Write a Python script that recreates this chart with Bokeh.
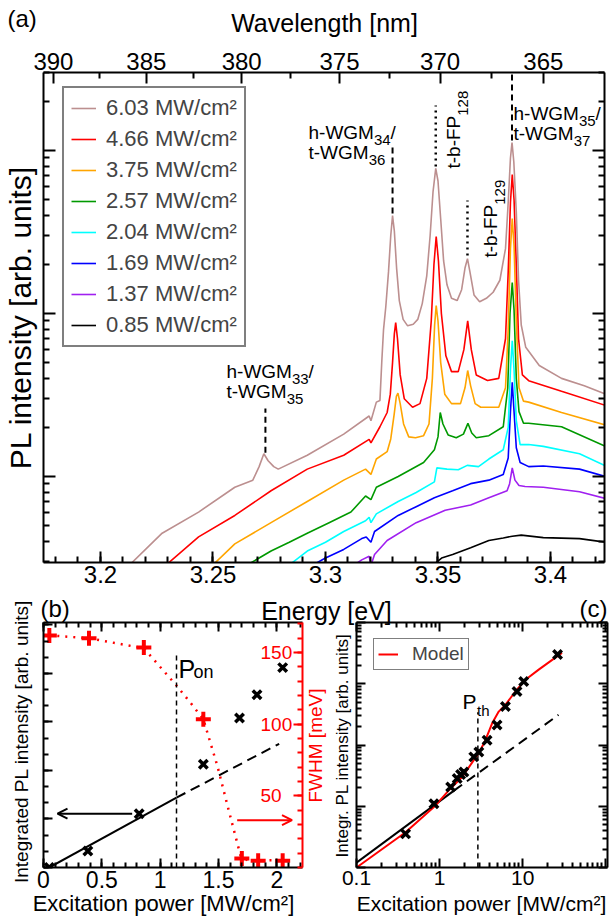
import math
from bokeh.plotting import figure
from bokeh.models import (Range1d, LinearAxis, LogAxis, FixedTicker, Label, Legend,
                          LegendItem, Arrow, OpenHead)
from bokeh.core.properties import value
from bokeh.layouts import column, row
from bokeh.embed import file_html
from bokeh.resources import INLINE

FONT = "Liberation Sans"
HC = 1239.84  # eV nm

# ---------------- panel (a): PL spectra ----------------
series_labels = ["6.03 MW/cm²", "4.66 MW/cm²", "3.75 MW/cm²", "2.57 MW/cm²",
                 "2.04 MW/cm²", "1.69 MW/cm²", "1.37 MW/cm²", "0.85 MW/cm²"]
series_colors = ["#bc8f8f", "#ff0000", "#ffa500", "#009900",
                 "#00ffff", "#0000ff", "#a020f0", "#000000"]

e_603 = [3.2110, 3.2274, 3.2436, 3.2597, 3.2677, 3.2705, 3.2726, 3.2745, 3.2770, 3.2790,
         3.2919, 3.3081, 3.3194, 3.3202, 3.3226, 3.3242, 3.3250, 3.3258, 3.3268, 3.3280,
         3.3290, 3.3298, 3.3306, 3.3316, 3.3328, 3.3345, 3.3365, 3.3390, 3.3410, 3.3430,
         3.3450, 3.3465, 3.3478, 3.3490, 3.3500, 3.3512, 3.3525, 3.3540, 3.3560, 3.3585,
         3.3605, 3.3620, 3.3631, 3.3642, 3.3660, 3.3685, 3.3715, 3.3745, 3.3775, 3.3800,
         3.3812, 3.3822, 3.3829, 3.3837, 3.3848, 3.3858, 3.3870, 3.3890, 3.3950, 3.4049,
         3.4150, 3.4245]
i_603 = [2.7, 4.49, 6.05, 8.59, 9.5, 11.5, 13.8, 12.5, 11.5, 11.1,
         13.5, 18.2, 23.5, 22.0, 28.6, 29.3, 50, 80, 110, 180,
         300, 399, 320, 190, 120, 92, 84, 86, 92, 115,
         170, 300, 560, 776, 650, 380, 210, 150, 124, 120,
         140, 190, 217, 180, 130, 118, 124, 135, 160, 250,
         480, 900, 1119, 850, 420, 160, 85, 62, 48, 40,
         36, 32]

e_466 = [3.2270, 3.2436, 3.2597, 3.2758, 3.2919, 3.3081, 3.3194, 3.3202, 3.3242, 3.3274,
         3.3288, 3.3298, 3.3306, 3.3312, 3.3320, 3.3332, 3.3350, 3.3387, 3.3420, 3.3450,
         3.3470, 3.3482, 3.3492, 3.3502, 3.3515, 3.3535, 3.3560, 3.3590, 3.3615, 3.3632,
         3.3648, 3.3670, 3.3720, 3.3770, 3.3800, 3.3812, 3.3822, 3.3830, 3.3838, 3.3848,
         3.3858, 3.3875, 3.3903, 3.4049, 3.4245]
i_466 = [2.7, 4.26, 5.77, 8.18, 11.1, 13.5, 16.9, 16.1, 20.2, 24.7,
         32, 50, 75, 88, 70, 42, 30, 26.6, 28, 40,
         90, 200, 297, 210, 100, 55, 44, 44, 60, 90,
         60, 42, 38.8, 40, 70, 180, 480, 713, 500, 200,
         70, 42, 38.7, 33.3, 27.3]

e_375 = [3.2480, 3.2597, 3.2758, 3.2919, 3.3081, 3.3178, 3.3202, 3.3226, 3.3274, 3.3290,
         3.3305, 3.3315, 3.3322, 3.3332, 3.3347, 3.3370, 3.3400, 3.3436, 3.3460, 3.3475,
         3.3485, 3.3492, 3.3500, 3.3512, 3.3530, 3.3560, 3.3600, 3.3620, 3.3632, 3.3645,
         3.3665, 3.3690, 3.3770, 3.3800, 3.3812, 3.3822, 3.3830, 3.3838, 3.3848, 3.3860,
         3.3880, 3.3903, 3.4049, 3.4245]
i_375 = [2.7, 3.86, 5.21, 7.03, 9.5, 11.1, 10.3, 12.8, 14.2, 17,
         24, 31, 32.5, 28, 21, 17.5, 17.3, 17.8, 21, 40,
         85, 112, 90, 50, 32, 28, 28, 35, 44.7, 36,
         28, 26.6, 26.6, 35, 80, 250, 383, 260, 90, 35,
         29, 28.6, 24.7, 20.7]

e_257 = [3.2620, 3.2758, 3.2839, 3.2919, 3.3016, 3.3113, 3.3178, 3.3202, 3.3226, 3.3323,
         3.3436, 3.3484, 3.3500, 3.3510, 3.3522, 3.3545, 3.3581, 3.3613, 3.3633, 3.3650,
         3.3670, 3.3726, 3.3790, 3.3810, 3.3820, 3.3830, 3.3838, 3.3848, 3.3860, 3.3880,
         3.3903, 3.4049, 3.4245]
i_257 = [2.7, 3.49, 3.95, 4.49, 5.21, 6.05, 7.59, 7.21, 8.59, 10.0,
         12.2, 14.6, 17.5, 24.7, 21, 18, 17.3, 18.2, 21.2, 18.5,
         17.3, 17.8, 20.2, 35, 100, 155, 105, 40, 25, 21.2,
         21.2, 20.2, 15.3]

e_204 = [3.2815, 3.2919, 3.3000, 3.3081, 3.3178, 3.3194, 3.3202, 3.3226, 3.3323, 3.3403,
         3.3484, 3.3495, 3.3540, 3.3590, 3.3630, 3.3680, 3.3726, 3.3790, 3.3812, 3.3822,
         3.3830, 3.3838, 3.3848, 3.3865, 3.3903, 3.3968, 3.4129, 3.4245]
i_204 = [2.7, 3.49, 3.95, 4.6, 5.35, 5.62, 5.21, 5.9, 7.03, 7.98,
         9.27, 11.3, 11.1, 11.0, 11.7, 11.5, 12.8, 14.6, 20, 45,
         68, 45, 22, 15.7, 15.7, 15.3, 13.8, 11.6]

e_169 = [3.2910, 3.3000, 3.3081, 3.3161, 3.3181, 3.3202, 3.3218, 3.3323, 3.3403, 3.3484,
         3.3565, 3.3645, 3.3726, 3.3790, 3.3812, 3.3822, 3.3830, 3.3838, 3.3848, 3.3865,
         3.3903, 3.3968, 3.4129, 3.4245]
i_169 = [2.7, 3.16, 3.57, 4.16, 4.26, 3.95, 4.6, 5.77, 6.53, 7.40,
         8.18, 9.04, 9.5, 10.3, 13, 25, 37.8, 25, 15, 12.2,
         11.5, 11.6, 11.1, 10.0]

e_137 = [3.3100, 3.3161, 3.3194, 3.3202, 3.3218, 3.3274, 3.3403, 3.3532, 3.3645, 3.3726,
         3.3807, 3.3818, 3.3830, 3.3842, 3.3860, 3.3887, 3.3968, 3.4129, 3.4245]
i_137 = [2.7, 3.08, 3.24, 2.85, 3.32, 4.05, 5.21, 6.21, 6.69, 7.40,
         8.18, 9.0, 11.3, 9.5, 8.8, 8.69, 8.59, 8.06, 7.33]

e_085 = [3.3470, 3.3516, 3.3565, 3.3645, 3.3726, 3.3790, 3.3830, 3.3870, 3.3968, 3.4129, 3.4245]
i_085 = [2.8, 3.16, 3.32, 3.66, 4.05, 4.2, 4.3, 4.37, 4.22, 4.16, 3.95]

spectra_e = [e_603, e_466, e_375, e_257, e_204, e_169, e_137, e_085]
spectra_i = [i_603, i_466, i_375, i_257, i_204, i_169, i_137, i_085]

energy_ticks = [3.2, 3.25, 3.3, 3.35, 3.4]
energy_tick_labels = ["3.2", "3.25", "3.3", "3.35", "3.4"]
wavelength_ticks = [390, 385, 380, 375, 370, 365]
wavelength_minor = [387.5, 382.5, 377.5, 372.5, 367.5]

# mode markers: energy, line top / bottom intensity
mode_energy = [3.2733, 3.3298, 3.3490, 3.3631, 3.3829]
mode_top = [26.1, 1104, 1888, 494, 3010]
mode_bottom = [14.0, 410, 798, 227, 1152]
mode_style = ["dashed", "dashed", "dotted", "dotted", "dashed"]

# ---------------- panel (b) ----------------
power_int_b = [0.05, 0.38, 0.82, 1.37, 1.68, 1.83, 2.05]
integ_b = [0.0, 0.34, 1.11, 2.13, 3.08, 3.56, 4.12]
power_fwhm_b = [0.05, 0.39, 0.86, 1.37, 1.70, 1.84, 2.05]
fwhm_b = [162, 160, 153.5, 103.5, 6.3, 4.7, 4.7]
fwhm_fit_power = [0.05, 0.39, 0.86, 1.14, 1.26, 1.37, 1.49, 1.60, 1.69, 1.75, 2.06]
fwhm_fit = [162, 160, 153, 127, 115, 103.5, 71, 36, 8, 5, 5]
lin_power_b = [0.05, 1.14, 2.02]
lin_int_b = [0.0, 1.44, 2.55]
p_on = 1.14
p_on_top = 4.44

# ---------------- panel (c) ----------------
power_c = [0.39, 0.855, 1.36, 1.63, 1.79, 1.96, 2.58, 2.97, 3.73, 4.92, 6.2, 8.55, 10.3, 26.3]
integ_c = [3.54, 11, 20.6, 28.3, 32.9, 36.3, 64, 77, 120, 212, 424, 748, 1092, 2993]
model_power = [0.1, 0.39, 0.895, 1.29, 1.87, 2.58, 3.1, 3.56, 4.29, 5.15, 6.2, 8.17, 10.8, 15.6, 29.7]
model_int = [1.0, 3.76, 10.3, 18.2, 30, 56.5, 82, 120, 226, 351, 452, 748, 1164, 1698, 3192]
lin_power_c = [0.1, 1.49, 27]
lin_int_c = [1.2, 18, 310]
p_th = 2.89
p_th_top = 343

# ---------------- helpers ----------------
AW = {'h': 556, '-': 333, 'W': 944, 'G': 778, 'M': 833, 't': 278, 'b': 556, 'F': 611,
      'P': 667, '/': 278, 'o': 556, 'n': 556}
BL = 4  # compensation for the rendered alphabetic baseline


def tw(s, size):
    return sum(AW.get(c, 556) for c in s) * size / 1000.0


def style_axis(ax, lw=2, major=10, minor=5, color="black", size="24px", standoff=3):
    ax.axis_line_width = lw
    ax.axis_line_color = color
    ax.major_tick_line_color = color
    ax.minor_tick_line_color = color
    ax.major_tick_line_width = lw
    ax.minor_tick_line_width = lw
    ax.major_tick_in = major
    ax.major_tick_out = 0
    ax.minor_tick_in = minor
    ax.minor_tick_out = 0
    ax.major_label_text_font = FONT
    ax.major_label_text_font_size = size
    ax.major_label_text_color = color
    ax.major_label_standoff = standoff


def blank(ax, ticks):
    ax.major_label_overrides = {t: "" for t in ticks}


def lab(p, text, x, y, size, align="left", baseline="alphabetic", angle=0.0, color="black",
        units="screen"):
    p.add_layout(Label(x=x, y=y, x_units=units, y_units=units, text=text,
                       text_font=FONT, text_font_size=f"{size}px", text_align=align,
                       text_baseline=baseline, angle=angle, text_color=color))


def no_align(p):
    if "frame_align" in p.properties():
        p.frame_align = False


def base_fig(w, h, xr, yr, xt="linear", yt="linear", mb=(0, 0, 0, 0)):
    p = figure(width=w, height=h, x_range=xr, y_range=yr, x_axis_type=xt, y_axis_type=yt,
               output_backend="svg", toolbar_location=None,
               min_border_top=mb[0], min_border_right=mb[1], min_border_bottom=mb[2],
               min_border_left=mb[3])
    p.grid.visible = False
    p.outline_line_color = None
    p.title_location = None
    no_align(p)
    return p


# ================= panel (a) =================
FA_L, FA_B = 43, 562  # frame left / bottom in canvas px
pa = base_fig(615, 617, Range1d(3.17467, 3.424), Range1d(2.968, 3010), yt="log",
              mb=(72, 11, 55, 43))

bx = pa.xaxis[0]
bx.ticker = FixedTicker(ticks=energy_ticks,
                        minor_ticks=[round(3.17 + 0.01 * k, 2) for k in range(26)])
bx.major_label_overrides = dict(zip(energy_ticks, energy_tick_labels))
style_axis(bx, major=11, minor=6, size="24px", standoff=3)

wl_e = [HC / w for w in wavelength_ticks]
tx = LinearAxis(ticker=FixedTicker(ticks=wl_e, minor_ticks=[HC / w for w in wavelength_minor]))
tx.major_label_overrides = {e: str(w) for e, w in zip(wl_e, wavelength_ticks)}
style_axis(tx, major=11, minor=6, size="24px", standoff=3)
pa.add_layout(tx, "above")

log_major = [10, 100, 1000]
log_minor = [m * d for d in (1, 10, 100, 1000) for m in range(2, 10)]
ly = pa.yaxis[0]
ly.ticker = FixedTicker(ticks=log_major, minor_ticks=log_minor)
blank(ly, log_major)
style_axis(ly, major=12, minor=6)
ry = LogAxis(ticker=FixedTicker(ticks=log_major, minor_ticks=log_minor))
blank(ry, log_major)
style_axis(ry, major=12, minor=6)
pa.add_layout(ry, "right")

rends = []
for k in range(len(spectra_e) - 1, -1, -1):
    r = pa.line(spectra_e[k], spectra_i[k], line_color=series_colors[k], line_width=1.6)
    rends.append((k, r))
rends.sort()

leg = Legend(items=[LegendItem(label=value(series_labels[k]), renderers=[r]) for k, r in rends],
             location=(19, 215), label_text_font=FONT, label_text_font_size="22px",
             glyph_width=25, glyph_height=26, label_height=26, spacing=5, padding=7,
             label_standoff=10, border_line_color="black", border_line_width=2,
             background_fill_alpha=1.0, margin=0)
pa.add_layout(leg)

for e, t, b, s in zip(mode_energy, mode_top, mode_bottom, mode_style):
    if s == "dashed":
        pa.line([e, e], [b, t], line_color="black", line_width=2, line_dash="6 4")
    else:
        pa.line([e, e], [b, t], line_color="black", line_width=2.5, line_dash="2 4")


def hlabel(X, Yb, main, sub, tail="", size=19, ssize=15, drop=7):
    sx, sy = X - FA_L, FA_B - (Yb - BL)
    lab(pa, main, sx, sy, size)
    w = tw(main, size)
    lab(pa, sub, sx + w, sy - drop, ssize)
    if tail:
        lab(pa, tail, sx + w + tw(sub, ssize), sy, size)


def vlabel(Xb, Ys, main, sub, size=19, ssize=15, drop=9):
    sx, sy = Xb - BL - FA_L, FA_B - Ys
    lab(pa, main, sx, sy, size, angle=math.pi / 2)
    lab(pa, sub, sx + drop, sy + tw(main, size), ssize, angle=math.pi / 2)


hlabel(226, 375, "h-WGM", "33", "/")
hlabel(226, 395, "t-WGM", "35")
hlabel(308, 136, "h-WGM", "34", "/")
hlabel(308, 156, "t-WGM", "36")
hlabel(513, 117, "h-WGM", "35", "/")
hlabel(513, 137, "t-WGM", "37")
vlabel(457, 168, "t-b-FP", "128")
vlabel(494, 257, "t-b-FP", "129")

# ================= panel (b) =================
FB_L, FB_B = 43, 867
pb = base_fig(330, 329, Range1d(0, 2.22), Range1d(0, 5.05), mb=(30, 28, 54, 43))
pb.border_fill_color = None
pb.extra_y_ranges = {"fwhm": Range1d(0, 171)}

b_ticks = [0, 0.5, 1, 1.5, 2]
b_minor = [round(0.1 * k, 1) for k in range(23)]
bxb = pb.xaxis[0]
bxb.ticker = FixedTicker(ticks=b_ticks, minor_ticks=b_minor)
bxb.major_label_overrides = {0: "0", 0.5: "0.5", 1: "1", 1.5: "1.5", 2: "2"}
style_axis(bxb, major=9, minor=5, size="23px", standoff=3)
txb = LinearAxis(ticker=FixedTicker(ticks=b_ticks, minor_ticks=b_minor))
blank(txb, b_ticks)
style_axis(txb, major=9, minor=5)
pb.add_layout(txb, "above")

lyb = pb.yaxis[0]
l_ticks = [0, 1, 2, 3, 4, 5]
lyb.ticker = FixedTicker(ticks=l_ticks, minor_ticks=[k / 3 for k in range(16)])
blank(lyb, l_ticks)
style_axis(lyb, major=9, minor=5)

r_ticks = [50, 100, 150]
ryb = LinearAxis(y_range_name="fwhm",
                 ticker=FixedTicker(ticks=r_ticks, minor_ticks=[10 * k for k in range(18)]))
style_axis(ryb, major=9, minor=5, color="red", size="19px", standoff=-42)
pb.add_layout(ryb, "right")

pb.line(fwhm_fit_power, fwhm_fit, y_range_name="fwhm", line_color="red", line_width=2.5,
        line_dash="2 6")
pb.scatter(power_fwhm_b, fwhm_b, y_range_name="fwhm", marker="cross", size=15,
           line_color="red", line_width=4)
pb.line(lin_power_b[:2], lin_int_b[:2], line_color="black", line_width=2)
pb.line(lin_power_b[1:], lin_int_b[1:], line_color="black", line_width=2, line_dash="10 6")
pb.line([p_on, p_on], [0, p_on_top], line_color="black", line_width=1.5, line_dash="5 4")
pb.scatter(power_int_b, integ_b, marker="x", size=12, line_color="black", line_width=3.5)
pb.add_layout(Arrow(end=OpenHead(size=10, line_color="black", line_width=2),
                    x_start=0.76, y_start=1.11, x_end=0.12, y_end=1.11,
                    line_color="black", line_width=2))
pb.add_layout(Arrow(end=OpenHead(size=10, line_color="red", line_width=2),
                    x_start=1.66, y_start=33, x_end=2.13, y_end=33, y_range_name="fwhm",
                    line_color="red", line_width=2))

lab(pb, "P", 178 - FB_L, FB_B - (672 - BL), 25)
lab(pb, "on", 193 - FB_L, FB_B - (675 - BL), 18)

# ================= panel (c) =================
FC_L, FC_B = 356, 867
pc = base_fig(285, 329, Range1d(0.1, 105), Range1d(1, 1e4), xt="log", yt="log",
              mb=(30, 8, 54, 26))
pc.border_fill_color = None

c_xt = [0.1, 1, 10, 100]
c_xm = [m * d for d in (0.1, 1, 10) for m in range(2, 10)]
bxc = pc.xaxis[0]
bxc.ticker = FixedTicker(ticks=c_xt, minor_ticks=c_xm)
bxc.major_label_overrides = {0.1: "0.1", 1: "1", 10: "10", 100: ""}
style_axis(bxc, major=9, minor=5, size="21px", standoff=3)
txc = LogAxis(ticker=FixedTicker(ticks=c_xt, minor_ticks=c_xm))
blank(txc, c_xt)
style_axis(txc, major=9, minor=5)
pc.add_layout(txc, "above")

c_yt = [1, 10, 100, 1000, 10000]
c_ym = [m * d for d in (1, 10, 100, 1000) for m in range(2, 10)]
lyc = pc.yaxis[0]
lyc.ticker = FixedTicker(ticks=c_yt, minor_ticks=c_ym)
blank(lyc, c_yt)
style_axis(lyc, major=9, minor=5)
ryc = LogAxis(ticker=FixedTicker(ticks=c_yt, minor_ticks=c_ym))
blank(ryc, c_yt)
style_axis(ryc, major=9, minor=5)
pc.add_layout(ryc, "right")

pc.line(lin_power_c[:2], lin_int_c[:2], line_color="black", line_width=2)
pc.line(lin_power_c[1:], lin_int_c[1:], line_color="black", line_width=2, line_dash="10 6")
pc.line([p_th, p_th], [1, p_th_top], line_color="black", line_width=1.5, line_dash="5 4")
model = pc.line(model_power, model_int, line_color="red", line_width=2)
pc.scatter(power_c, integ_c, marker="x", size=12, line_color="black", line_width=3.5)

legc = Legend(items=[LegendItem(label=value("Model"), renderers=[model])], location=(17, 197),
              label_text_font=FONT, label_text_font_size="19px", glyph_width=20,
              glyph_height=20, label_height=20, padding=4, label_standoff=14,
              border_line_color="black", border_line_width=1.5, margin=0)
pc.add_layout(legc)

lab(pc, "P", 462 - FC_L, FC_B - (705 - BL), 21)
lab(pc, "th", 476.5 - FC_L, FC_B - (714 - BL), 15)

# ================= text overlay (titles and panel letters, canvas pixels) =================
ov = figure(width=615, height=921, x_range=Range1d(0, 615), y_range=Range1d(921, 0),
            output_backend="svg", toolbar_location=None, x_axis_location=None,
            y_axis_location=None, min_border=0)
ov.grid.visible = False
ov.outline_line_color = None
ov.border_fill_color = None
ov.background_fill_color = None
ov.title_location = None
no_align(ov)
ov.margin = (-921, 0, 0, 0)

HALF = math.pi / 2
lab(ov, "(a)", 7, 22 - BL, 24, units="data")
lab(ov, "Wavelength [nm]", 324, 26 - BL, 25, align="center", units="data")
lab(ov, "Energy [eV]", 326, 614 - BL, 25, align="center", units="data")
lab(ov, "PL intensity [arb. units]", 20, 317, 30, align="center", baseline="middle",
    angle=HALF, units="data")
lab(ov, "(b)", 40, 612 - BL, 24, units="data")
lab(ov, "(c)", 607, 612 - BL, 24, align="right", units="data")
lab(ov, "Integrated PL intensity [arb. units]", 21, 741, 19, align="center",
    baseline="middle", angle=HALF, units="data")
lab(ov, "FWHM [meV]", 315, 745, 19, align="center", baseline="middle", angle=HALF,
    color="red", units="data")
lab(ov, "Integr. PL intensity [arb. units]", 342, 745, 17, align="center",
    baseline="middle", angle=HALF, units="data")
lab(ov, "Excitation power [MW/cm²]", 163, 903, 22, align="center", units="data")
lab(ov, "Excitation power [MW/cm²]", 481, 903, 21, align="center", units="data")

bottom = row(pb, pc)
bottom.margin = (-25, 0, 0, 0)
layout = column(pa, bottom, ov)

open("out.html", "w").write(file_html(layout, INLINE))
